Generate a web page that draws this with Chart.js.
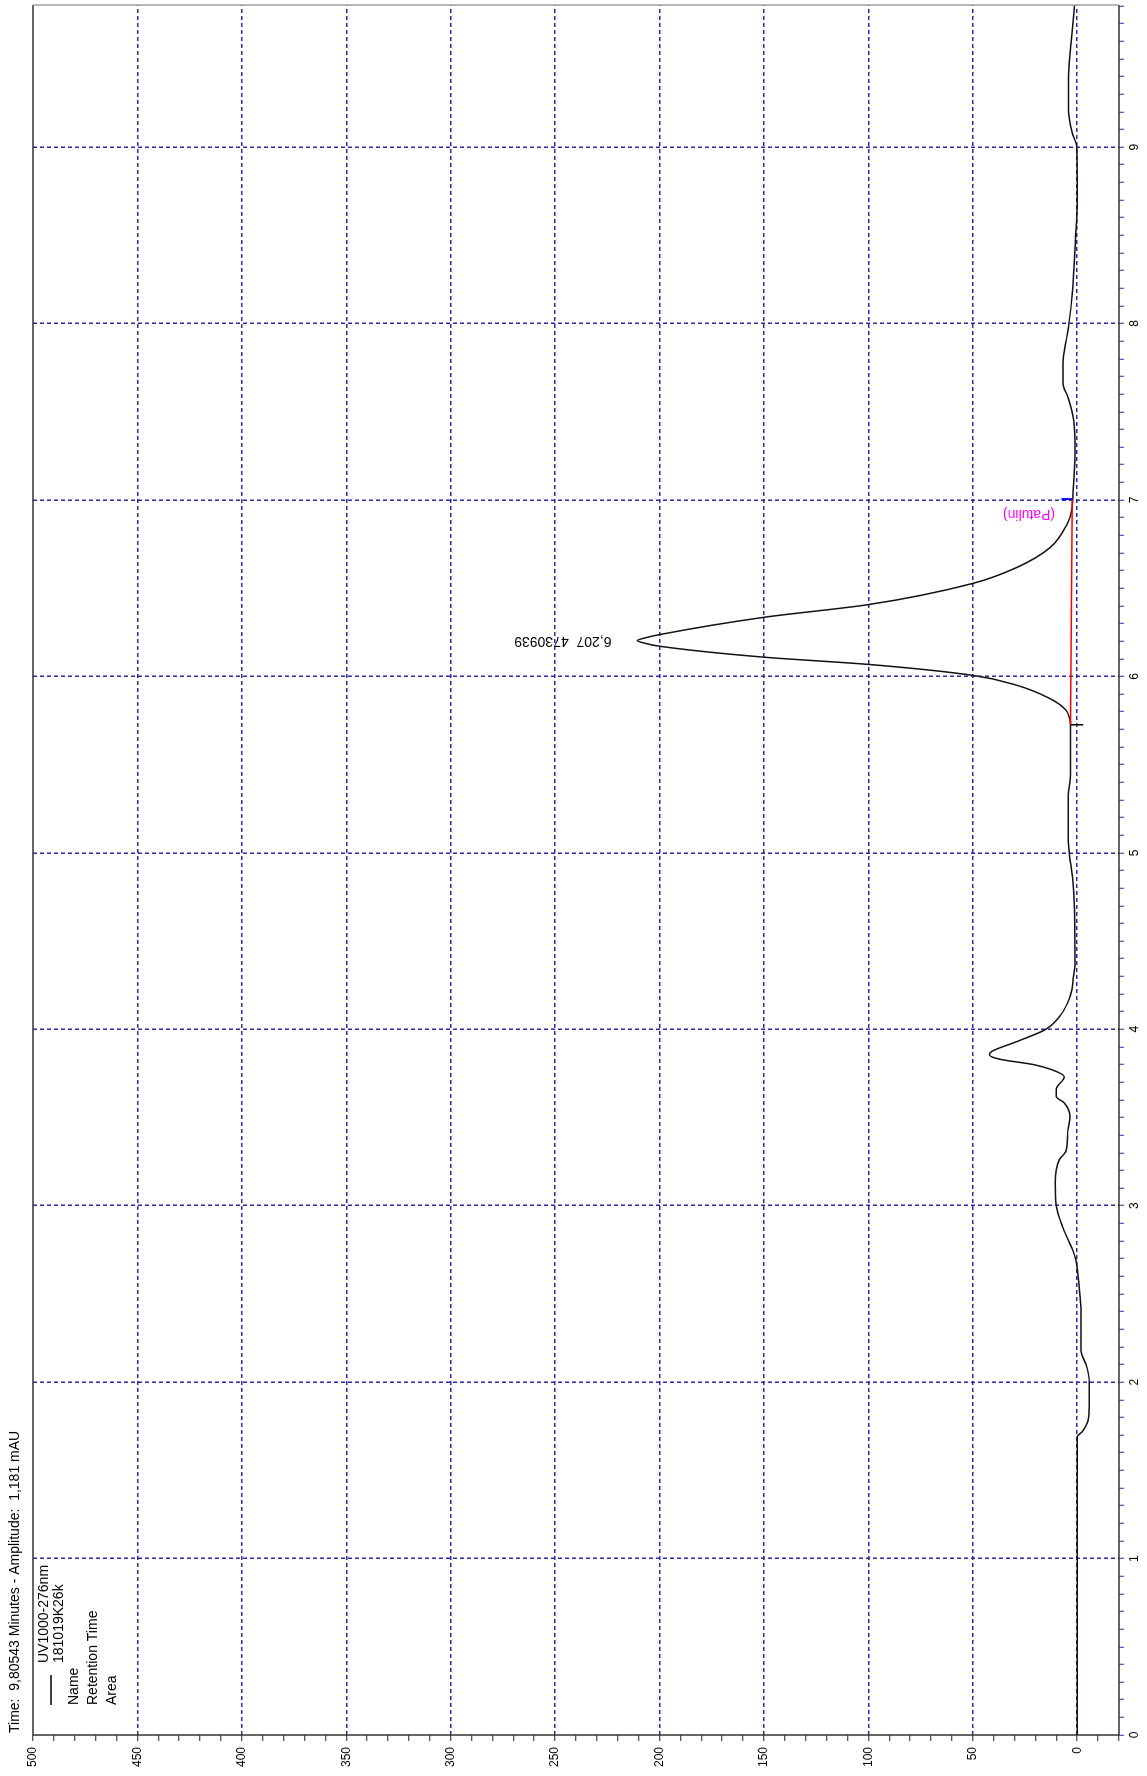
<!DOCTYPE html>
<html>
<head>
<meta charset="utf-8">
<script src="https://cdn.jsdelivr.net/npm/chart.js@4.4.1/dist/chart.umd.min.js"></script>
<style>
    html, body { margin: 0; padding: 0; background: #fff; }
    #wrap { position: relative; width: 1147px; height: 1776px; overflow: hidden; }
    /* chart is drawn in landscape and turned a quarter counter-clockwise */
    #chromChart { position: absolute; left: 0; top: 0; transform-origin: 0 0; transform: translate(0, 1776px) rotate(-90deg); }
</style>
</head>
<body>
<div id="wrap"><canvas id="chromChart" width="1776" height="1147"></canvas></div>
<script>
// retention time (min) and detector signal (mAU)
const timeMin = [0, 1.69, 1.72, 1.776, 1.85, 2.0, 2.09, 2.18, 2.30, 2.41, 2.50, 2.58, 2.69, 2.75, 2.81, 2.88,
    3.0, 3.13, 3.26, 3.31, 3.41, 3.51, 3.58, 3.62, 3.66, 3.73, 3.77, 3.80, 3.83, 3.855, 3.874, 3.93,
    4.0, 4.08, 4.15, 4.22, 4.28, 4.36, 4.71, 4.85, 5.0, 5.07, 5.32, 5.45, 5.726, 5.76, 5.81, 5.874, 5.95,
    6.006, 6.068, 6.109, 6.171, 6.188, 6.203, 6.218, 6.237, 6.335, 6.407, 6.527, 6.617, 6.73, 6.86, 6.95,
    7.0, 7.04, 7.28, 7.45, 7.58, 7.66, 7.78, 7.91, 8.0, 8.17, 8.49, 8.70, 9.0, 9.08, 9.21, 9.40, 9.60, 9.805];
const signalMAU = [0, 0, -2.5, -5, -5.7, -5.8, -4.5, -1.8, -1.8, -1.8, -1.2, -0.6, 0.6, 2.2, 4.5, 7,
    10, 10.5, 8.6, 5.4, 4.6, 3.5, 6, 10, 10, 6.2, 12, 21, 37, 42, 41, 29,
    15, 8, 4.6, 2.6, 2, 1.1, 1.4, 2.2, 3.8, 4.3, 4.3, 3.2, 3.2, 3.6, 5.5, 13, 29,
    50, 100, 150, 200, 207, 210.7, 207, 200, 150, 100, 50, 29, 13, 5, 2.5,
    2.2, 2.0, 1.1, 1.7, 4.4, 6.8, 6.8, 5.2, 4, 2.4, 0.8, 0, 0.2, 2.4, 4.2, 4.2, 2.9, 1.3];

// integration baseline of the patulin peak and its start / end marks
const baselineTime = [5.726, 7.005];
const baselineMAU = [3.2, 2.4];
const startMarkMAU = [3.2, -2.9];
const endMarkMAU = [7.5, 1.9];

// tick labels
const timeLabels = [0, 1, 2, 3, 4, 5, 6, 7, 8, 9];
const mauLabels = [0, 50, 100, 150, 200, 250, 300, 350, 400, 450, 500];

// texts
const titleText = 'Time:  9,80543 Minutes - Amplitude:  1,181 mAU';
const legendLines = ['UV1000-276nm', '181019K26k'];
const legendFields = ['Name', 'Retention Time', 'Area'];
const peakTime = 6.2;
const peakText = '6,207  4730939';
const peakName = '(Patulin)';
const peakNameTime = 6.92;

const FONT = '"Liberation Sans", Arial, sans-serif';
const GRID_BLUE = '#2b2ba3';
const NONE = 'rgba(0,0,0,0)';

function isWhole(v) {
    return Math.abs(v - Math.round(v)) < 1e-6;
}

const tracePoints = timeMin.map((t, i) => ({ x: t, y: signalMAU[i] }));
const baselinePoints = baselineTime.map((t, i) => ({ x: t, y: baselineMAU[i] }));

// frame, title, legend block and peak annotations
const chromText = {
    id: 'chromText',
    afterDraw(chart) {
        const { ctx, chartArea: a, scales: { x, y } } = chart;
        ctx.save();

        // frame
        ctx.lineWidth = 1.5;
        ctx.strokeStyle = '#333';
        ctx.beginPath();
        ctx.moveTo(a.right, a.top);
        ctx.lineTo(a.left, a.top);
        ctx.lineTo(a.left, a.bottom);
        ctx.lineTo(a.right, a.bottom);
        ctx.stroke();
        ctx.strokeStyle = '#a0a0a0';
        ctx.beginPath();
        ctx.moveTo(a.right, a.top);
        ctx.lineTo(a.right, a.bottom);
        ctx.stroke();

        ctx.fillStyle = '#000';
        ctx.textBaseline = 'middle';
        ctx.textAlign = 'left';
        ctx.font = '14px ' + FONT;
        ctx.fillText(titleText, 43, 15);

        // legend
        ctx.fillText(legendLines[0], 113, 44);
        ctx.fillText(legendLines[1], 113, 59);
        ctx.strokeStyle = '#000';
        ctx.lineWidth = 1.5;
        ctx.beginPath();
        ctx.moveTo(71, 51);
        ctx.lineTo(101, 51);
        ctx.stroke();
        legendFields.forEach((f, i) => ctx.fillText(f, 71, 74 + i * 19));

        // peak labels, written along the signal axis
        ctx.save();
        ctx.translate(x.getPixelForValue(peakTime), y.getPixelForValue(223));
        ctx.rotate(-Math.PI / 2);
        ctx.fillText(peakText, 0, 0);
        ctx.restore();

        ctx.save();
        ctx.translate(x.getPixelForValue(peakNameTime), y.getPixelForValue(10.6));
        ctx.rotate(-Math.PI / 2);
        ctx.fillStyle = '#ff00ff';
        ctx.fillText(peakName, 0, 0);
        ctx.restore();

        ctx.restore();
    }
};

new Chart(document.getElementById('chromChart'), {
    type: 'line',
    data: {
        datasets: [
            {
                data: baselinePoints,
                borderColor: '#ff0000',
                borderWidth: 1.5,
                pointRadius: 0,
                tension: 0
            },
            {
                data: [{ x: baselineTime[0], y: startMarkMAU[0] }, { x: baselineTime[0], y: startMarkMAU[1] }],
                borderColor: '#000',
                borderWidth: 1.5,
                pointRadius: 0
            },
            {
                data: [{ x: baselineTime[1], y: endMarkMAU[0] }, { x: baselineTime[1], y: endMarkMAU[1] }],
                borderColor: '#0000ff',
                borderWidth: 2,
                pointRadius: 0
            },
            {
                data: tracePoints,
                borderColor: '#111',
                borderWidth: 1.5,
                pointRadius: 0,
                cubicInterpolationMode: 'monotone'
            }
        ]
    },
    options: {
        responsive: false,
        animation: false,
        devicePixelRatio: 1,
        layout: {
            padding: { top: 33, right: 5, left: 0, bottom: 0 }
        },
        plugins: {
            legend: { display: false },
            title: { display: false },
            tooltip: { enabled: false }
        },
        scales: {
            x: {
                type: 'linear',
                min: 0,
                max: 9.80543,
                afterFit: s => { s.height = 28; },
                ticks: {
                    stepSize: 0.1,
                    autoSkip: false,
                    includeBounds: false,
                    maxRotation: 0,
                    padding: 3,
                    color: '#000',
                    font: { size: 12, family: FONT },
                    callback: v => (isWhole(v) && timeLabels.includes(Math.round(v))) ? String(Math.round(v)) : ''
                },
                grid: {
                    color: c => (c.tick && isWhole(c.tick.value) && c.tick.value > 0) ? GRID_BLUE : NONE,
                    lineWidth: 1.5,
                    tickColor: GRID_BLUE,
                    tickWidth: 1,
                    tickLength: 5
                },
                border: { display: false, dash: [4, 3] }
            },
            y: {
                type: 'linear',
                min: -20,
                max: 500,
                afterFit: s => { s.width = 41; },
                ticks: {
                    stepSize: 10,
                    autoSkip: false,
                    includeBounds: false,
                    padding: 6,
                    color: '#000',
                    font: { size: 12, family: FONT },
                    callback: v => mauLabels.includes(Math.round(v)) && isWhole(v) ? String(Math.round(v)) : ''
                },
                grid: {
                    color: c => (c.tick && isWhole(c.tick.value / 50) && c.tick.value < 500) ? GRID_BLUE : NONE,
                    lineWidth: 1.5,
                    tickColor: '#222',
                    tickWidth: 1,
                    tickLength: 6
                },
                border: { display: false, dash: [4, 3] }
            }
        }
    },
    plugins: [chromText]
});
</script>
</body>
</html>
